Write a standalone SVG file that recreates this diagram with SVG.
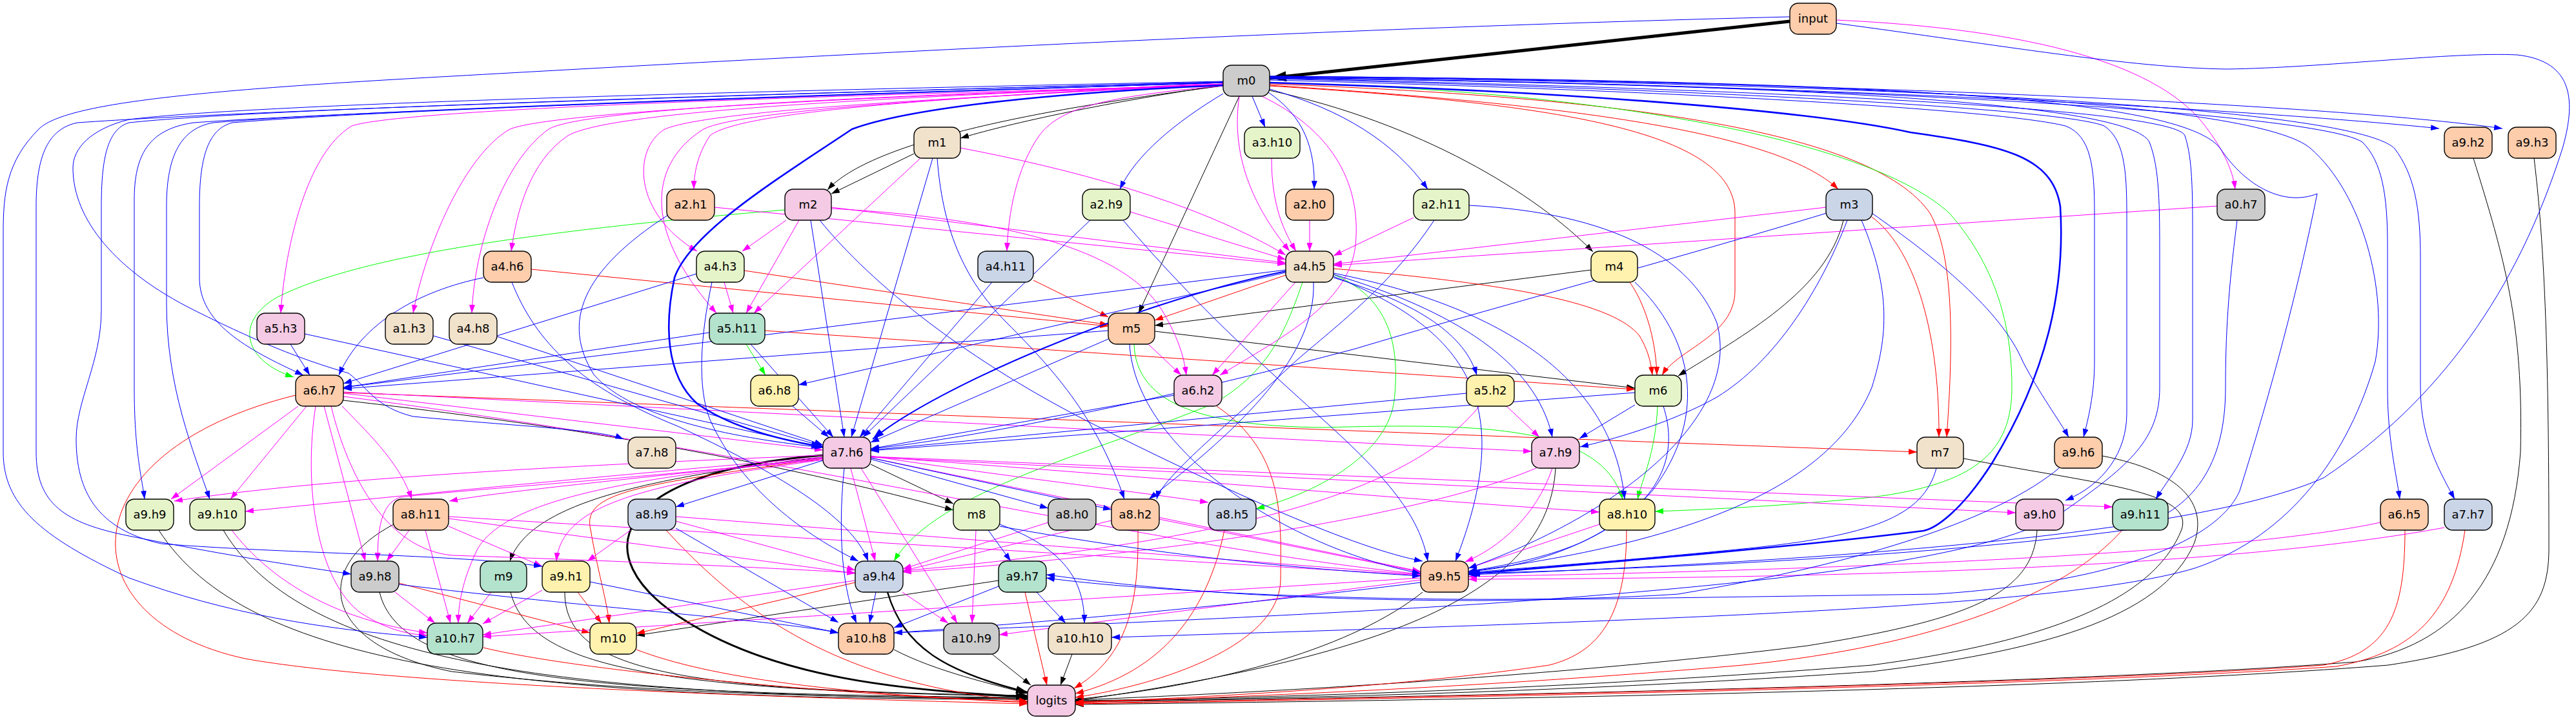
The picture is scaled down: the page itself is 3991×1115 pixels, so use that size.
<svg xmlns="http://www.w3.org/2000/svg" width="3991" height="1115" viewBox="0 0 3991 1115">
<style>
.bg{fill:#fff}
.node rect{stroke:#000;stroke-width:1.4}
.node text{font-family:"DejaVu Sans","Liberation Sans",sans-serif;font-size:18px;text-anchor:middle;fill:#000}
.c1{fill:#b3e2cd}.c2{fill:#fdcdac}.c3{fill:#cbd5e8}.c4{fill:#f4cae4}.c5{fill:#e6f5c9}.c6{fill:#fff2ae}.c7{fill:#f1e2cc}.c8{fill:#cccccc}
#edges path{fill:none;stroke-width:1}
#edges .k{stroke:#000;marker-end:url(#ak)}
#edges .b{stroke:#00f;marker-end:url(#ab)}
#edges .m{stroke:#f0f;marker-end:url(#am)}
#edges .r{stroke:#f00;marker-end:url(#ar)}
#edges .g{stroke:#0f0;marker-end:url(#ag)}
#edges .kt{stroke:#000;stroke-width:5;marker-end:url(#akT)}
#edges .k3{stroke:#000;stroke-width:3;marker-end:url(#akB)}
#edges .b3{stroke:#00f;stroke-width:2.6;marker-end:url(#abB)}
</style>
<defs>
<marker id="ak" viewBox="0 0 13 9" refX="13" refY="4.5" markerWidth="13" markerHeight="9" orient="auto" markerUnits="userSpaceOnUse"><path d="M0,0L13,4.5L0,9z" fill="#000"/></marker>
<marker id="ab" viewBox="0 0 13 9" refX="13" refY="4.5" markerWidth="13" markerHeight="9" orient="auto" markerUnits="userSpaceOnUse"><path d="M0,0L13,4.5L0,9z" fill="#00f"/></marker>
<marker id="am" viewBox="0 0 13 9" refX="13" refY="4.5" markerWidth="13" markerHeight="9" orient="auto" markerUnits="userSpaceOnUse"><path d="M0,0L13,4.5L0,9z" fill="#f0f"/></marker>
<marker id="ar" viewBox="0 0 13 9" refX="13" refY="4.5" markerWidth="13" markerHeight="9" orient="auto" markerUnits="userSpaceOnUse"><path d="M0,0L13,4.5L0,9z" fill="#f00"/></marker>
<marker id="ag" viewBox="0 0 13 9" refX="13" refY="4.5" markerWidth="13" markerHeight="9" orient="auto" markerUnits="userSpaceOnUse"><path d="M0,0L13,4.5L0,9z" fill="#0f0"/></marker>
<marker id="akT" viewBox="0 0 26 16" refX="26" refY="8" markerWidth="26" markerHeight="16" orient="auto" markerUnits="userSpaceOnUse"><path d="M0,0L26,8L0,16z" fill="#000"/></marker>
<marker id="akB" viewBox="0 0 18 12" refX="18" refY="6" markerWidth="18" markerHeight="12" orient="auto" markerUnits="userSpaceOnUse"><path d="M0,0L18,6L0,12z" fill="#000"/></marker>
<marker id="abB" viewBox="0 0 18 12" refX="18" refY="6" markerWidth="18" markerHeight="12" orient="auto" markerUnits="userSpaceOnUse"><path d="M0,0L18,6L0,12z" fill="#00f"/></marker>
</defs>
<rect class="bg" x="0" y="0" width="3991" height="1115"/>
<g id="edges">
<path class="kt" d="M2773,33 L1967,121"/>
<path class="k" d="M1895,132 C1700,160 1550,195 1488,214"/>
<path class="k" d="M1895,133 C1600,170 1350,220 1282,294"/>
<path class="k" d="M1416,238 L1288,300"/>
<path class="k" d="M1967,140 C2200,190 2380,300 2468,390"/>
<path class="k" d="M1920,149 L1764,485"/>
<path class="k" d="M2465,418 L1789,504"/>
<path class="k" d="M1789,513 L2533,601"/>
<path class="k" d="M2856,341 C2830,450 2700,520 2600,582"/>
<path class="k" d="M532,620 C800,650 1150,700 1477,790"/>
<path class="k" d="M1349,719 L1477,780"/>
<path class="k" d="M1275,708 C1000,740 820,780 790,869"/>
<path class="k" d="M1547,899 L986,984"/>
<path class="k" d="M246,821 C381,1031 784,1083 1592,1083"/>
<path class="k" d="M346,821 C470,1030 880,1080 1592,1082"/>
<path class="k" d="M610,812 C480,880 500,1000 700,1040 C1000,1075 1300,1080 1592,1081"/>
<path class="k" d="M588,917 C620,1050 900,1075 1592,1080"/>
<path class="k" d="M791,917 C820,1030 1000,1070 1592,1078"/>
<path class="k" d="M875,917 C875,1040 1050,1070 1592,1077"/>
<path class="k" d="M1385,1006 C1450,1040 1540,1060 1592,1074"/>
<path class="k3" style="stroke-width:2.4" d="M1375,917 C1400,1000 1460,1040 1592,1072"/>
<path class="k3" d="M1275,705 C950,730 900,860 1060,960 C1200,1050 1400,1070 1592,1079"/>
<path class="k" d="M1537,1013 L1597,1061"/>
<path class="k" d="M1661,1013 L1643,1061"/>
<path class="k" d="M2204,917 C2100,1000 1900,1060 1666,1083"/>
<path class="k" d="M2410,725 C2400,900 2200,1010 1666,1085"/>
<path class="k" d="M3156,821 C3150,920 3050,960 2800,1000 C2400,1050 1900,1075 1666,1084"/>
<path class="k" d="M3042,710 C3250,750 3400,760 3380,820 C3340,920 3200,990 2900,1030 C2400,1070 1900,1082 1666,1085"/>
<path class="k" d="M3257,706 C3380,730 3420,780 3400,840 C3350,960 3150,1010 2900,1040 C2400,1075 1900,1083 1666,1086"/>
<path class="k" d="M3832,245 C3880,400 3910,500 3905,700 C3890,900 3800,1000 3650,1025 C3200,1060 2200,1080 1666,1087"/>
<path class="k" d="M3926,245 C3945,400 3949,600 3949,850 C3949,950 3900,1000 3700,1030 C3200,1070 2200,1085 1666,1091"/>
<path class="r" d="M1967,132 C2400,160 2750,200 2848,293"/>
<path class="r" d="M1967,133 C2400,160 2688,200 2688,330 L2688,450 C2688,520 2600,540 2575,581"/>
<path class="r" d="M1967,130 C2500,150 2900,200 2990,330 C3030,400 3025,550 3016,677"/>
<path class="r" d="M2900,336 C2960,380 3005,500 3004,677"/>
<path class="r" d="M823,417 L1717,505"/>
<path class="r" d="M1153,419 L1717,503"/>
<path class="r" d="M1601,434 L1717,491"/>
<path class="r" d="M1992,426 L1789,496"/>
<path class="r" d="M2066,416 C2350,440 2500,470 2540,520 C2555,545 2558,565 2560,581"/>
<path class="r" d="M2525,437 C2555,480 2566,540 2567,581"/>
<path class="r" d="M1185,512 L2533,603"/>
<path class="r" d="M532,608 L2970,700"/>
<path class="r" d="M618,903 L914,980"/>
<path class="r" d="M1275,710 C1000,750 900,760 915,820 C925,880 940,930 944,965"/>
<path class="r" d="M895,917 L932,965"/>
<path class="r" d="M1325,902 L986,981"/>
<path class="r" d="M458,612 C100,700 100,960 380,1020 C600,1060 1200,1080 1592,1090"/>
<path class="r" d="M749,1003 C900,1040 1300,1075 1592,1088"/>
<path class="r" d="M986,1006 C1100,1050 1300,1075 1592,1087"/>
<path class="r" d="M1032,821 C1150,950 1300,1060 1592,1086"/>
<path class="r" d="M1588,917 L1622,1061"/>
<path class="r" d="M1763,821 C1765,950 1740,1020 1664,1066"/>
<path class="r" d="M1897,821 C1870,950 1800,1040 1666,1074"/>
<path class="r" d="M1885,629 C1990,700 1985,800 1984,900 C1980,1000 1800,1060 1666,1080"/>
<path class="r" d="M2520,821 C2520,950 2480,1010 2400,1030 C2200,1060 1900,1080 1666,1087"/>
<path class="r" d="M3288,821 C3200,920 3000,1000 2700,1030 C2300,1065 1900,1080 1666,1088"/>
<path class="r" d="M3726,821 C3726,950 3700,1010 3600,1030 C3200,1060 2200,1080 1666,1089"/>
<path class="r" d="M3819,821 C3800,950 3740,1010 3620,1032 C3200,1062 2200,1082 1666,1090"/>
<path class="g" d="M1216,325 C800,360 550,400 430,460 C360,500 380,560 455,584"/>
<path class="g" d="M1156,533 L1186,581"/>
<path class="g" d="M1757,533 C1760,620 1850,660 2050,662 C2300,655 2480,660 2514,773"/>
<path class="g" d="M2568,629 C2565,700 2545,740 2537,773"/>
<path class="g" d="M1967,128 C2500,140 2900,220 3020,330 C3100,420 3117,520 3117,600 C3117,700 3060,750 2900,770 C2750,785 2620,790 2564,792"/>
<path class="g" d="M2066,425 C2150,460 2170,530 2160,620 C2150,700 2050,760 1946,788"/>
<path class="g" d="M2018,437 C1990,520 1960,580 1880,625 C1700,700 1450,760 1385,869"/>
<path class="m" d="M2845,31 C3150,45 3350,100 3420,200 C3450,240 3460,270 3463,293"/>
<path class="m" d="M1895,128 C1500,150 1150,170 1100,210 C1080,240 1075,270 1075,293"/>
<path class="m" d="M1895,130 C1400,150 950,170 880,210 C820,250 800,330 792,389"/>
<path class="m" d="M1895,131 C1500,150 1100,170 1030,200 C980,230 980,330 1080,389"/>
<path class="m" d="M1218,341 L1150,389"/>
<path class="m" d="M1895,133 C1700,150 1640,170 1610,210 C1575,260 1562,330 1560,389"/>
<path class="m" d="M1920,149 C1905,250 1950,330 1998,389"/>
<path class="m" d="M1488,229 C1650,260 1850,310 1992,395"/>
<path class="m" d="M1107,321 L1992,409"/>
<path class="m" d="M1288,321 L1992,407"/>
<path class="m" d="M1751,328 L1992,402"/>
<path class="m" d="M1970,245 C1970,320 1990,360 2008,389"/>
<path class="m" d="M2029,341 L2029,389"/>
<path class="m" d="M2190,337 L2066,396"/>
<path class="m" d="M2829,321 L2066,409"/>
<path class="m" d="M3435,319 L2066,411"/>
<path class="m" d="M1895,132 C1200,150 620,170 545,195 C470,240 440,400 435,485"/>
<path class="m" d="M1895,132 C1300,150 850,175 790,200 C720,240 660,380 640,485"/>
<path class="m" d="M1895,131 C1300,150 900,170 850,200 C780,250 735,380 731,485"/>
<path class="m" d="M1895,130 C1500,150 1150,170 1090,200 C1010,250 990,350 1110,485"/>
<path class="m" d="M1122,437 L1136,485"/>
<path class="m" d="M1238,341 L1156,485"/>
<path class="m" d="M1426,245 L1168,485"/>
<path class="m" d="M1288,323 C1600,340 1750,400 1800,480 C1830,530 1835,560 1838,581"/>
<path class="m" d="M1955,149 C2060,200 2110,280 2100,380 C2090,470 1990,520 1890,581"/>
<path class="m" d="M2007,437 L1878,581"/>
<path class="m" d="M1779,533 L1830,581"/>
<path class="m" d="M532,609 L1275,697"/>
<path class="m" d="M532,607 L2373,699"/>
<path class="m" d="M2334,629 L2385,677"/>
<path class="m" d="M462,629 L265,773"/>
<path class="m" d="M1275,705 C900,720 500,740 270,776"/>
<path class="m" d="M475,629 L357,773"/>
<path class="m" d="M1275,708 C900,740 600,770 380,792"/>
<path class="m" d="M530,629 C580,680 620,720 638,773"/>
<path class="m" d="M1275,709 C1000,740 780,760 696,776"/>
<path class="m" d="M1349,706 C1500,730 1750,760 1872,778"/>
<path class="m" d="M1349,707 C1800,740 2200,775 2478,793"/>
<path class="m" d="M1349,708 L3123,794"/>
<path class="m" d="M1349,707 L3273,785"/>
<path class="m" d="M502,629 L566,869"/>
<path class="m" d="M634,821 L599,869"/>
<path class="m" d="M1275,710 C1000,740 700,760 620,770 C590,780 585,820 585,869"/>
<path class="m" d="M1275,712 C1000,750 870,780 862,869"/>
<path class="m" d="M977,821 L910,869"/>
<path class="m" d="M695,815 L840,877"/>
<path class="m" d="M1318,725 L1356,869"/>
<path class="m" d="M1624,809 L1399,881"/>
<path class="m" d="M1722,806 L1399,884"/>
<path class="m" d="M1047,807 L1325,883"/>
<path class="m" d="M695,803 L1325,888"/>
<path class="m" d="M2380,725 C2200,800 1800,860 1399,886"/>
<path class="m" d="M2292,629 C2200,740 2000,830 1399,884"/>
<path class="m" d="M513,629 C540,740 600,850 700,860 C1000,870 1200,880 1325,887"/>
<path class="m" d="M532,614 C1200,700 1800,850 2201,889"/>
<path class="m" d="M1349,709 L2201,885"/>
<path class="m" d="M2405,725 C2380,800 2320,850 2270,870"/>
<path class="m" d="M2478,812 L2275,880"/>
<path class="m" d="M1796,804 L2201,886"/>
<path class="m" d="M1047,800 L2201,890"/>
<path class="m" d="M695,800 L2201,891"/>
<path class="m" d="M3688,809 C3500,850 3000,880 2275,893"/>
<path class="m" d="M3787,817 C3500,870 3000,895 2275,897"/>
<path class="m" d="M2201,895 L748,986"/>
<path class="m" d="M2201,898 L1548,983"/>
<path class="m" d="M659,821 L698,965"/>
<path class="m" d="M489,629 C470,750 490,900 560,950 C600,975 630,982 662,984"/>
<path class="m" d="M612,917 L674,965"/>
<path class="m" d="M761,917 L724,965"/>
<path class="m" d="M840,914 L748,966"/>
<path class="m" d="M359,821 C420,900 520,960 662,980"/>
<path class="m" d="M1325,899 L748,983"/>
<path class="m" d="M1275,712 C950,740 780,780 740,850 C715,900 710,940 710,965"/>
<path class="m" d="M1398,917 L1469,965"/>
<path class="m" d="M1512,821 L1506,965"/>
<path class="m" d="M1334,725 L1483,965"/>
<path class="b" d="M2773,26 C2000,45 1200,90 700,118 C300,140 100,160 60,200 C10,250 5,300 5,360 L5,700 C5,780 60,830 200,895 C350,950 500,975 662,987"/>
<path class="b" d="M2845,36 C3100,70 3300,105 3450,107 C3600,105 3800,80 3900,85 C3990,95 3990,160 3970,230 C3900,450 3780,620 3600,740 C3400,830 2800,870 2275,890"/>
<path class="b" d="M1940,149 L1960,197"/>
<path class="b" d="M1967,120 C2800,130 3500,170 3779,199"/>
<path class="b" d="M1967,119 C2800,125 3600,160 3877,199"/>
<path class="b" d="M1895,145 C1820,190 1760,240 1735,293"/>
<path class="b" d="M1965,143 C2020,180 2038,230 2036,293"/>
<path class="b" d="M1967,138 C2080,170 2160,220 2212,293"/>
<path class="b3" d="M1895,132 C1600,145 1400,170 1320,200 C1200,280 1070,360 1045,430 C1030,500 1030,580 1080,625 C1130,660 1200,680 1275,692"/>
<path class="b3" d="M1967,128 C2400,140 2800,170 2960,205 C3100,225 3180,240 3192,320 C3200,450 3170,580 3087,716 C3040,790 3000,818 2980,822 C2800,845 2500,870 2275,889"/>
<path class="b" d="M1967,124 C2600,140 3100,170 3200,195 C3240,210 3245,260 3245,330 L3245,560 C3245,610 3235,650 3228,677"/>
<path class="b" d="M1967,122 C2700,140 3200,170 3260,195 C3290,215 3295,260 3295,330 L3295,640 C3295,700 3260,750 3200,775"/>
<path class="b" d="M1967,121 C2800,140 3370,170 3385,210 C3395,240 3397,280 3397,350 L3397,650 C3397,700 3360,740 3340,773"/>
<path class="b" d="M1967,120 C3000,135 3600,180 3660,220 C3690,250 3699,300 3699,380 L3699,600 C3699,680 3712,730 3718,773"/>
<path class="b" d="M1967,119 C3000,130 3650,170 3710,230 C3740,270 3750,320 3750,400 L3750,600 C3750,680 3780,730 3803,773"/>
<path class="b" d="M1895,128 C1200,150 500,175 300,190 C230,200 208,240 208,310 L208,600 C208,700 220,740 224,773"/>
<path class="b" d="M1895,128 C1200,148 550,172 330,190 C275,200 258,250 258,320 L258,470 C258,600 300,700 325,773"/>
<path class="b" d="M1895,127 C1200,145 400,170 120,190 C70,200 56,250 56,320 L56,700 C56,780 100,810 200,830 C350,860 450,875 544,889"/>
<path class="b" d="M1895,128 C1200,150 600,170 360,190 C320,200 309,250 309,320 L309,430 C309,500 380,540 470,581"/>
<path class="b" d="M1895,126 C1200,140 400,160 200,185 C140,200 113,230 113,260 C113,340 180,420 300,480 C420,540 480,560 540,578 C570,600 580,630 640,645 C800,660 930,665 966,680"/>
<path class="b" d="M1895,127 C1200,145 400,168 200,190 C165,200 157,250 157,320 L157,480 C157,560 118,620 118,680 C118,760 150,820 250,842 C450,858 700,858 840,877"/>
<path class="b" d="M1967,118 C2900,125 3380,150 3440,230 C3480,290 3540,320 3590,300 C3560,450 3520,600 3470,760 C3440,830 3300,900 3000,920 L2300,930 C1900,930 1700,900 1621,890"/>
<path class="b" d="M1967,118 C2900,125 3500,160 3580,230 C3660,300 3700,450 3680,560 C3640,700 3550,830 3400,880 C3200,940 2600,960 1722,987"/>
<path class="b" d="M1967,121 C2800,130 3300,160 3330,220 C3346,260 3346,320 3346,400 L3346,600 C3346,680 3300,720 3200,790 C3100,860 2800,900 2300,935 C1900,960 1600,970 1385,980"/>
<path class="b" d="M1445,245 L1319,677"/>
<path class="b" d="M1452,245 C1460,350 1490,430 1560,500 C1640,580 1700,650 1742,773"/>
<path class="b" d="M1035,333 C900,420 870,500 920,580 C980,650 1150,680 1275,693"/>
<path class="b" d="M1256,341 L1308,677"/>
<path class="b" d="M1270,341 C1350,440 1500,560 1700,660 C1900,760 2100,850 2204,869"/>
<path class="b" d="M1689,341 L1337,677"/>
<path class="b" d="M1740,341 C1850,470 1950,560 2050,650 C2150,740 2200,800 2212,869"/>
<path class="b" d="M2222,341 C2150,450 2050,520 2000,566 C1900,660 1800,740 1792,773"/>
<path class="b" d="M2276,318 C2500,330 2620,400 2660,500 C2700,650 2500,800 2275,880"/>
<path class="b" d="M2830,330 C2600,400 2300,480 2100,540 C1800,620 1500,680 1349,695"/>
<path class="b" d="M2862,341 C2820,450 2750,560 2660,615 C2580,660 2480,685 2448,692"/>
<path class="b" d="M2900,330 C3000,400 3100,480 3134,560 C3160,610 3190,650 3205,677"/>
<path class="b" d="M2884,341 C2930,450 2925,520 2900,600 C2850,720 2700,830 2275,885"/>
<path class="b" d="M3466,341 C3452,450 3448,520 3448,600 C3448,720 3400,790 3300,820 C3000,860 2600,880 2275,888"/>
<path class="b" d="M749,430 C650,450 560,500 525,581"/>
<path class="b" d="M793,437 C830,530 900,600 1050,660 C1200,730 1320,800 1345,869"/>
<path class="b" d="M1079,424 L532,594"/>
<path class="b" d="M1103,437 C1085,520 1080,600 1100,650 C1150,760 1250,830 1330,869"/>
<path class="b" d="M1537,437 L1332,677"/>
<path class="b" d="M1992,418 L532,600"/>
<path class="b3" style="stroke-width:2" d="M1992,420 C1750,470 1450,600 1352,680"/>
<path class="b" d="M1992,422 L1237,596"/>
<path class="b" d="M2066,430 C2200,470 2270,520 2288,581"/>
<path class="b" d="M2066,425 C2250,480 2380,560 2405,677"/>
<path class="b" d="M2066,423 C2350,480 2500,600 2517,773"/>
<path class="b" d="M2066,428 C2300,520 2340,650 2255,869"/>
<path class="b" d="M2035,437 C2040,560 1900,680 1780,773"/>
<path class="b" d="M2533,437 C2620,520 2650,640 2560,760 C2480,850 2350,880 2275,885"/>
<path class="b" d="M450,533 L480,581"/>
<path class="b" d="M472,517 L1275,693"/>
<path class="b" d="M671,520 L1275,691"/>
<path class="b" d="M770,521 L1275,689"/>
<path class="b" d="M1099,515 L532,600"/>
<path class="b" d="M1163,533 L1291,677"/>
<path class="b" d="M1717,512 L532,602"/>
<path class="b" d="M1717,525 L1349,685"/>
<path class="b" d="M1750,533 C1760,700 2000,850 2201,888"/>
<path class="b" d="M1228,629 L1284,677"/>
<path class="b" d="M1819,612 L1349,695"/>
<path class="b" d="M2272,609 L1349,697"/>
<path class="b" d="M2533,608 L1349,698"/>
<path class="b" d="M2533,627 L2447,679"/>
<path class="b" d="M2577,629 C2600,700 2580,780 2450,840 C2380,870 2300,880 2275,885"/>
<path class="b" d="M1349,711 L1624,787"/>
<path class="b" d="M1349,709 L1722,789"/>
<path class="b" d="M1275,713 L1047,785"/>
<path class="b" d="M1308,725 C1300,800 1300,900 1327,965"/>
<path class="b" d="M3000,725 C2980,800 2900,830 2700,850 C2500,870 2350,880 2275,887"/>
<path class="b" d="M3190,725 C3100,800 2900,870 2600,920 C2300,940 1800,920 1621,895"/>
<path class="b" d="M1531,821 L1566,869"/>
<path class="b" d="M1549,812 C1650,850 1680,900 1680,965"/>
<path class="b" d="M1549,815 C1800,860 2000,880 2201,892"/>
<path class="b" d="M1047,818 L1299,964"/>
<path class="b" d="M618,905 C900,940 1200,960 1299,980"/>
<path class="b" d="M914,901 L1299,980"/>
<path class="b" d="M1357,917 L1347,965"/>
<path class="b" d="M1547,908 L1385,972"/>
<path class="b" d="M1606,917 L1651,965"/>
<path class="b" d="M2201,902 C1900,940 1600,965 1385,980"/>
</g>
<g id="n_input" class="node"><rect class="c2" x="2773" y="5" width="72" height="48" rx="13"/><text x="2809" y="35">input</text></g>
<g id="n_m0" class="node"><rect class="c8" x="1895" y="101" width="72" height="48" rx="13"/><text x="1931" y="131">m0</text></g>
<g id="n_m1" class="node"><rect class="c7" x="1416" y="197" width="72" height="48" rx="13"/><text x="1452" y="227">m1</text></g>
<g id="n_a3h10" class="node"><rect class="c5" x="1928" y="197" width="86" height="48" rx="13"/><text x="1971" y="227">a3.h10</text></g>
<g id="n_a9h2" class="node"><rect class="c2" x="3787" y="197" width="74" height="48" rx="13"/><text x="3824" y="227">a9.h2</text></g>
<g id="n_a9h3" class="node"><rect class="c2" x="3886" y="197" width="74" height="48" rx="13"/><text x="3923" y="227">a9.h3</text></g>
<g id="n_a2h1" class="node"><rect class="c2" x="1033" y="293" width="74" height="48" rx="13"/><text x="1070" y="323">a2.h1</text></g>
<g id="n_m2" class="node"><rect class="c4" x="1216" y="293" width="72" height="48" rx="13"/><text x="1252" y="323">m2</text></g>
<g id="n_a2h9" class="node"><rect class="c5" x="1677" y="293" width="74" height="48" rx="13"/><text x="1714" y="323">a2.h9</text></g>
<g id="n_a2h0" class="node"><rect class="c2" x="1992" y="293" width="74" height="48" rx="13"/><text x="2029" y="323">a2.h0</text></g>
<g id="n_a2h11" class="node"><rect class="c5" x="2190" y="293" width="86" height="48" rx="13"/><text x="2233" y="323">a2.h11</text></g>
<g id="n_m3" class="node"><rect class="c3" x="2829" y="293" width="72" height="48" rx="13"/><text x="2865" y="323">m3</text></g>
<g id="n_a0h7" class="node"><rect class="c8" x="3435" y="293" width="74" height="48" rx="13"/><text x="3472" y="323">a0.h7</text></g>
<g id="n_a4h6" class="node"><rect class="c2" x="749" y="389" width="74" height="48" rx="13"/><text x="786" y="419">a4.h6</text></g>
<g id="n_a4h3" class="node"><rect class="c5" x="1079" y="389" width="74" height="48" rx="13"/><text x="1116" y="419">a4.h3</text></g>
<g id="n_a4h11" class="node"><rect class="c3" x="1515" y="389" width="86" height="48" rx="13"/><text x="1558" y="419">a4.h11</text></g>
<g id="n_a4h5" class="node"><rect class="c7" x="1992" y="389" width="74" height="48" rx="13"/><text x="2029" y="419">a4.h5</text></g>
<g id="n_m4" class="node"><rect class="c6" x="2465" y="389" width="72" height="48" rx="13"/><text x="2501" y="419">m4</text></g>
<g id="n_a5h3" class="node"><rect class="c4" x="398" y="485" width="74" height="48" rx="13"/><text x="435" y="515">a5.h3</text></g>
<g id="n_a1h3" class="node"><rect class="c7" x="597" y="485" width="74" height="48" rx="13"/><text x="634" y="515">a1.h3</text></g>
<g id="n_a4h8" class="node"><rect class="c7" x="696" y="485" width="74" height="48" rx="13"/><text x="733" y="515">a4.h8</text></g>
<g id="n_a5h11" class="node"><rect class="c1" x="1099" y="485" width="86" height="48" rx="13"/><text x="1142" y="515">a5.h11</text></g>
<g id="n_m5" class="node"><rect class="c2" x="1717" y="485" width="72" height="48" rx="13"/><text x="1753" y="515">m5</text></g>
<g id="n_a6h7" class="node"><rect class="c2" x="458" y="581" width="74" height="48" rx="13"/><text x="495" y="611">a6.h7</text></g>
<g id="n_a6h8" class="node"><rect class="c6" x="1163" y="581" width="74" height="48" rx="13"/><text x="1200" y="611">a6.h8</text></g>
<g id="n_a6h2" class="node"><rect class="c4" x="1819" y="581" width="74" height="48" rx="13"/><text x="1856" y="611">a6.h2</text></g>
<g id="n_a5h2" class="node"><rect class="c6" x="2272" y="581" width="74" height="48" rx="13"/><text x="2309" y="611">a5.h2</text></g>
<g id="n_m6" class="node"><rect class="c5" x="2533" y="581" width="72" height="48" rx="13"/><text x="2569" y="611">m6</text></g>
<g id="n_a7h8" class="node"><rect class="c7" x="973" y="677" width="74" height="48" rx="13"/><text x="1010" y="707">a7.h8</text></g>
<g id="n_a7h6" class="node"><rect class="c4" x="1275" y="677" width="74" height="48" rx="13"/><text x="1312" y="707">a7.h6</text></g>
<g id="n_a7h9" class="node"><rect class="c4" x="2373" y="677" width="74" height="48" rx="13"/><text x="2410" y="707">a7.h9</text></g>
<g id="n_m7" class="node"><rect class="c7" x="2970" y="677" width="72" height="48" rx="13"/><text x="3006" y="707">m7</text></g>
<g id="n_a9h6" class="node"><rect class="c2" x="3183" y="677" width="74" height="48" rx="13"/><text x="3220" y="707">a9.h6</text></g>
<g id="n_a9h9" class="node"><rect class="c5" x="195" y="773" width="74" height="48" rx="13"/><text x="232" y="803">a9.h9</text></g>
<g id="n_a9h10" class="node"><rect class="c5" x="294" y="773" width="86" height="48" rx="13"/><text x="337" y="803">a9.h10</text></g>
<g id="n_a8h11" class="node"><rect class="c2" x="609" y="773" width="86" height="48" rx="13"/><text x="652" y="803">a8.h11</text></g>
<g id="n_a8h9" class="node"><rect class="c3" x="973" y="773" width="74" height="48" rx="13"/><text x="1010" y="803">a8.h9</text></g>
<g id="n_m8" class="node"><rect class="c5" x="1477" y="773" width="72" height="48" rx="13"/><text x="1513" y="803">m8</text></g>
<g id="n_a8h0" class="node"><rect class="c8" x="1624" y="773" width="74" height="48" rx="13"/><text x="1661" y="803">a8.h0</text></g>
<g id="n_a8h2" class="node"><rect class="c2" x="1722" y="773" width="74" height="48" rx="13"/><text x="1759" y="803">a8.h2</text></g>
<g id="n_a8h5" class="node"><rect class="c3" x="1872" y="773" width="74" height="48" rx="13"/><text x="1909" y="803">a8.h5</text></g>
<g id="n_a8h10" class="node"><rect class="c6" x="2478" y="773" width="86" height="48" rx="13"/><text x="2521" y="803">a8.h10</text></g>
<g id="n_a9h0" class="node"><rect class="c4" x="3123" y="773" width="74" height="48" rx="13"/><text x="3160" y="803">a9.h0</text></g>
<g id="n_a9h11" class="node"><rect class="c1" x="3273" y="773" width="86" height="48" rx="13"/><text x="3316" y="803">a9.h11</text></g>
<g id="n_a6h5" class="node"><rect class="c2" x="3688" y="773" width="74" height="48" rx="13"/><text x="3725" y="803">a6.h5</text></g>
<g id="n_a7h7" class="node"><rect class="c3" x="3787" y="773" width="74" height="48" rx="13"/><text x="3824" y="803">a7.h7</text></g>
<g id="n_a9h8" class="node"><rect class="c8" x="544" y="869" width="74" height="48" rx="13"/><text x="581" y="899">a9.h8</text></g>
<g id="n_m9" class="node"><rect class="c1" x="744" y="869" width="72" height="48" rx="13"/><text x="780" y="899">m9</text></g>
<g id="n_a9h1" class="node"><rect class="c6" x="840" y="869" width="74" height="48" rx="13"/><text x="877" y="899">a9.h1</text></g>
<g id="n_a9h4" class="node"><rect class="c3" x="1325" y="869" width="74" height="48" rx="13"/><text x="1362" y="899">a9.h4</text></g>
<g id="n_a9h7" class="node"><rect class="c1" x="1547" y="869" width="74" height="48" rx="13"/><text x="1584" y="899">a9.h7</text></g>
<g id="n_a9h5" class="node"><rect class="c2" x="2201" y="869" width="74" height="48" rx="13"/><text x="2238" y="899">a9.h5</text></g>
<g id="n_a10h7" class="node"><rect class="c1" x="662" y="965" width="86" height="48" rx="13"/><text x="705" y="995">a10.h7</text></g>
<g id="n_m10" class="node"><rect class="c6" x="914" y="965" width="72" height="48" rx="13"/><text x="950" y="995">m10</text></g>
<g id="n_a10h8" class="node"><rect class="c2" x="1299" y="965" width="86" height="48" rx="13"/><text x="1342" y="995">a10.h8</text></g>
<g id="n_a10h9" class="node"><rect class="c8" x="1462" y="965" width="86" height="48" rx="13"/><text x="1505" y="995">a10.h9</text></g>
<g id="n_a10h10" class="node"><rect class="c7" x="1624" y="965" width="98" height="48" rx="13"/><text x="1673" y="995">a10.h10</text></g>
<g id="n_logits" class="node"><rect class="c4" x="1592" y="1061" width="74" height="48" rx="13"/><text x="1629" y="1091">logits</text></g>
</svg>
